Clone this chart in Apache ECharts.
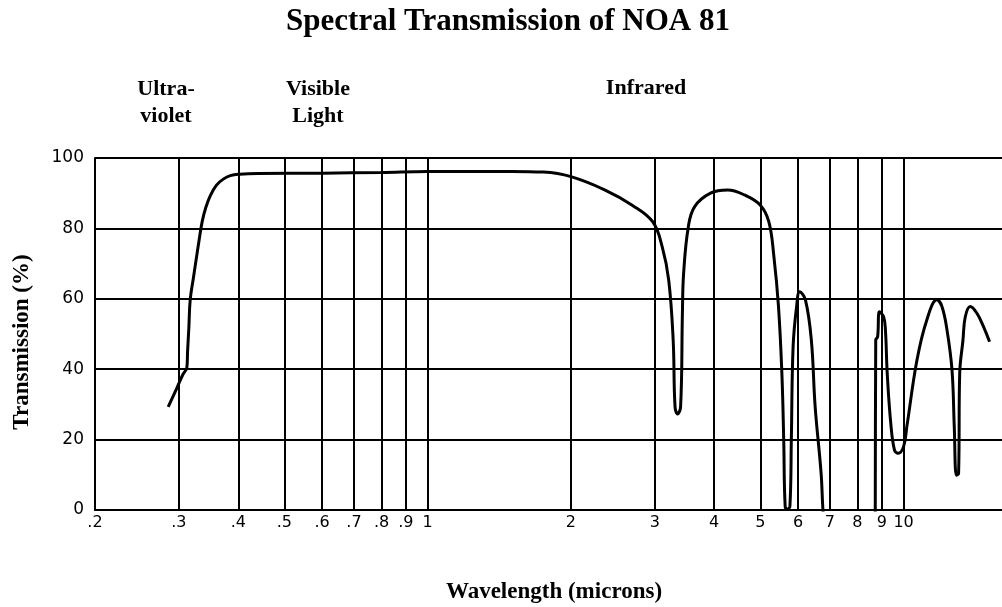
<!DOCTYPE html>
<html>
<head>
<meta charset="utf-8">
<script src="https://cdn.jsdelivr.net/npm/echarts@6/dist/echarts.min.js"></script>
<style>
html,body{margin:0;padding:0;background:#fff;}
#chart{width:1002px;height:607px;}
</style>
</head>
<body>
<div id="chart"></div>
<script>
// Wavelength (microns) and transmission (%)
const wavelength = [0.285, 0.298, 0.306, 0.312, 0.313, 0.315, 0.317, 0.322, 0.327, 0.331, 0.336, 0.342, 0.350, 0.360, 0.372, 0.385, 0.403, 0.44, 0.6, 0.8, 1.0, 1.5, 1.75, 2.0, 2.36, 2.69, 2.97, 3.11, 3.21, 3.28, 3.31, 3.35, 3.40, 3.43, 3.45, 3.53, 3.64, 3.93, 4.27, 4.63, 5.0, 5.21, 5.34, 5.46, 5.55, 5.60, 5.64, 5.70, 5.77, 5.81, 5.86, 5.96, 6.05, 6.22, 6.40, 6.52, 6.71, 6.77, 6.82, 7.5, 8.71, 8.72, 8.74, 8.82, 8.90, 9.08, 9.16, 9.24, 9.40, 9.57, 9.74, 10.0, 10.16, 10.67, 11.19, 11.75, 12.04, 12.34, 12.64, 12.78, 12.91, 13.05, 13.12, 13.33, 13.48, 13.81, 14.26, 14.72, 15.16];
const transmission = [29.3, 35.0, 38.5, 40.5, 45.0, 52.0, 59.7, 66.0, 72.0, 76.7, 82.0, 86.0, 89.5, 92.3, 94.0, 95.0, 95.4, 95.6, 95.7, 95.9, 96.2, 96.2, 96.0, 94.7, 90.9, 86.6, 81.9, 74.8, 65.3, 48.3, 29.3, 27.3, 29.3, 55.9, 67.2, 80.5, 86.2, 90.0, 90.9, 89.5, 86.6, 81.9, 72.0, 57.8, 38.8, 19.9, 0.9, 0.3, 1.0, 20.0, 46.4, 57.8, 62.0, 59.7, 48.3, 29.3, 10.4, 0.0, -4, null, -4, 0.0, 48.3, 49.2, 56.3, 54.9, 51.1, 38.8, 24.6, 17.0, 16.1, 18.0, 23.7, 42.6, 54.0, 59.7, 57.8, 51.1, 39.8, 23.7, 9.9, 10.4, 38.8, 48.3, 54.9, 57.8, 55.9, 52.1, 47.8];
const xTickValues = [0.2, 0.3, 0.4, 0.5, 0.6, 0.7, 0.8, 0.9, 1, 2, 3, 4, 5, 6, 7, 8, 9, 10];
const yTickValues = [0, 20, 40, 60, 80, 100];
const titleText = 'Spectral Transmission of NOA 81';
const regionLabels = ['Ultra-', 'violet', 'Visible', 'Light', 'Infrared'];
const xName = 'Wavelength (microns)';
const yName = 'Transmission (%)';

const seriesData = wavelength.map((w, i) => [w, transmission[i]]);

function fmtX(v) {
  const r = Math.round(v * 10) / 10;
  if (r < 1) return String(r).replace(/^0\./, '.');
  return String(Math.round(r));
}

const serif = '"Liberation Serif", "Times New Roman", serif';
const sans = '"DejaVu Sans", sans-serif';

const chart = echarts.init(document.getElementById('chart'), null, {renderer: 'canvas'});
chart.setOption({
  animation: false,
  backgroundColor: '#fff',
  grid: {left: 95, right: 0, top: 158, bottom: 97, containLabel: false},
  xAxis: {
    type: 'log',
    logBase: 10,
    min: 0.2,
    max: 16.1,
    axisLine: {show: true, lineStyle: {color: '#000', width: 2}},
    axisTick: {show: false, customValues: xTickValues},
    axisLabel: {
      customValues: xTickValues,
      formatter: fmtX,
      color: '#000',
      fontFamily: sans,
      fontSize: 16,
      margin: 5
    },
    splitLine: {show: true, lineStyle: {color: '#000', width: 2}},
    minorTick: {show: false},
    minorSplitLine: {show: false}
  },
  yAxis: {
    type: 'value',
    min: 0,
    max: 100,
    interval: 20,
    axisLine: {show: true, lineStyle: {color: '#000', width: 2}},
    axisTick: {show: false},
    axisLabel: {color: '#000', fontFamily: sans, fontSize: 17, margin: 11},
    splitLine: {show: true, lineStyle: {color: '#000', width: 2}}
  },
  series: [{
    type: 'line',
    data: seriesData,
    showSymbol: false,
    symbol: 'none',
    smooth: 0.4,
    connectNulls: false,
    clip: true,
    lineStyle: {color: '#000', width: 3},
    z: 5
  }],
  graphic: [
    {type: 'text', x: 508, y: 22, style: {text: titleText, font: 'bold 31px ' + serif, fill: '#000', textAlign: 'center', textVerticalAlign: 'middle'}},
    {type: 'text', x: 166, y: 89, style: {text: regionLabels[0], font: 'bold 22px ' + serif, fill: '#000', textAlign: 'center', textVerticalAlign: 'middle'}},
    {type: 'text', x: 166, y: 116, style: {text: regionLabels[1], font: 'bold 22px ' + serif, fill: '#000', textAlign: 'center', textVerticalAlign: 'middle'}},
    {type: 'text', x: 318, y: 89, style: {text: regionLabels[2], font: 'bold 22px ' + serif, fill: '#000', textAlign: 'center', textVerticalAlign: 'middle'}},
    {type: 'text', x: 318, y: 116, style: {text: regionLabels[3], font: 'bold 22px ' + serif, fill: '#000', textAlign: 'center', textVerticalAlign: 'middle'}},
    {type: 'text', x: 646, y: 88, style: {text: regionLabels[4], font: 'bold 22px ' + serif, fill: '#000', textAlign: 'center', textVerticalAlign: 'middle'}},
    {type: 'text', x: 554, y: 592, style: {text: xName, font: 'bold 23px ' + serif, fill: '#000', textAlign: 'center', textVerticalAlign: 'middle'}},
    {type: 'text', x: 22, y: 342, rotation: Math.PI / 2, style: {text: yName, font: 'bold 23px ' + serif, fill: '#000', textAlign: 'center', textVerticalAlign: 'middle'}}
  ]
});
</script>
</body>
</html>
